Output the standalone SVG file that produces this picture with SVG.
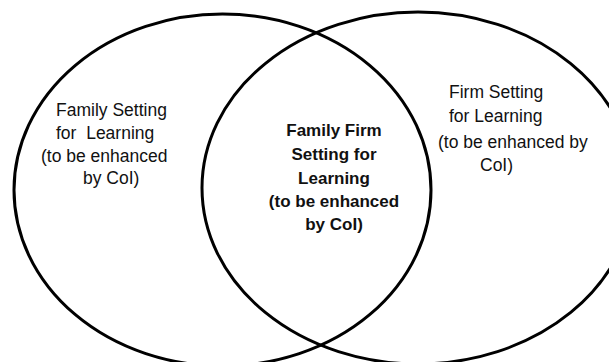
<svg xmlns="http://www.w3.org/2000/svg" width="609" height="362" viewBox="0 0 609 362">
<style>
.c{fill:none;stroke:#000;stroke-width:3}
.t{font-family:"Liberation Sans",Arial,sans-serif;font-size:17.5px;fill:#111}
.b{font-family:"Liberation Sans",Arial,sans-serif;font-size:17px;font-weight:bold;fill:#111;text-anchor:middle}
</style>
<rect width="609" height="362" fill="#fff"/>
<g id="family">
<ellipse class="c" cx="222.5" cy="190" rx="208.5" ry="176"/>
<text class="t" x="56" y="116">Family Setting</text>
<text class="t" x="56" y="139" xml:space="preserve">for  Learning</text>
<text class="t" x="41" y="162">(to be enhanced</text>
<text class="t" x="83" y="184">by CoI)</text>
</g>
<g id="firm">
<ellipse class="c" cx="418" cy="188" rx="216" ry="176"/>
<text class="t" x="449" y="98">Firm Setting</text>
<text class="t" x="449" y="122">for Learning</text>
<text class="t" x="438" y="148">(to be enhanced by</text>
<text class="t" x="480" y="171">CoI)</text>
</g>
<g id="overlap">
<text class="b" x="334" y="136">Family Firm</text>
<text class="b" x="334" y="160">Setting for</text>
<text class="b" x="334" y="184">Learning</text>
<text class="b" x="334" y="207">(to be enhanced</text>
<text class="b" x="334" y="230">by CoI)</text>
</g>
<g id="connectors"></g>
</svg>
